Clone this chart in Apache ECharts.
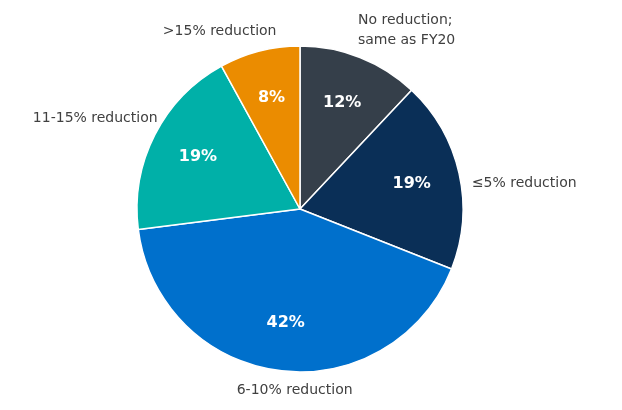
<!DOCTYPE html>
<html><head><meta charset="utf-8">
<script src="https://cdn.jsdelivr.net/npm/echarts@6/dist/echarts.min.js"></script>
<style>html,body{margin:0;background:#fff}#c{width:622px;height:410px}</style></head>
<body><div id="c"></div>
<script>
const categories = ["No reduction;\nsame as FY20", "≤5% reduction", "6-10% reduction", "11-15% reduction", ">15% reduction"];
const values = [12, 19, 42, 19, 8];
const colors = ["#353f4a", "#0a2f57", "#0070cc", "#00b0a8", "#eb8c00"];
const nudges = [[-10, -20], [0, 12], [79, 12], [15, -13], [24, -12]];
const data = categories.map((n, i) => ({ name: n, value: values[i], itemStyle: { color: colors[i] } }));
const chart = echarts.init(document.getElementById('c'));
const common = { type: 'pie', center: [300, 209], startAngle: 90, clockwise: true, animation: false };
chart.setOption({
  series: [
    Object.assign({}, common, {
      radius: [0, 163],
      data: data,
      itemStyle: { borderColor: '#fff', borderWidth: 1.5 },
      label: { show: false },
      labelLine: { show: false }
    }),
    Object.assign({}, common, {
      radius: [60, 163],
      silent: true,
      data: data.map(d => ({ name: d.name, value: d.value })),
      itemStyle: { color: 'rgba(0,0,0,0)' },
      label: { position: 'inside', formatter: '{c}%', color: '#fff', fontWeight: 'bold', fontSize: 16, fontFamily: 'DejaVu Sans' },
      labelLine: { show: false }
    }),
    Object.assign({}, common, {
      radius: [0, 163],
      silent: true,
      data: data.map(d => ({ name: d.name, value: d.value })),
      itemStyle: { color: 'rgba(0,0,0,0)' },
      label: { position: 'outside', formatter: '{b}', color: '#404040', fontSize: 14, fontFamily: 'DejaVu Sans', lineHeight: 20, overflow: 'none' },
      labelLine: { show: false, length: 8, length2: 0 },
      labelLayout: p => ({ dx: nudges[p.dataIndex][0], dy: nudges[p.dataIndex][1] })
    })
  ]
});
</script></body></html>
